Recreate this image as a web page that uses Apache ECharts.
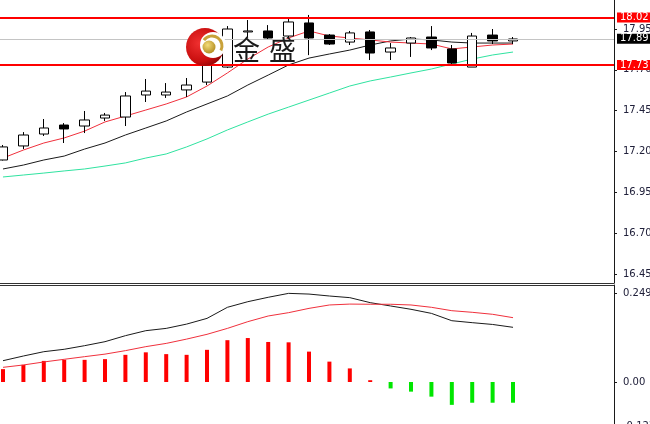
<!DOCTYPE html>
<html><head><meta charset="utf-8">
<script src="https://cdn.jsdelivr.net/npm/echarts@6/dist/echarts.min.js"></script>
<style>html,body{margin:0;padding:0;overflow:hidden;background:#fff}#c{width:650px;height:440px}</style>
</head><body><div id="c"></div>
<script>
// ---- data ----
const barIndex   = [0,1,2,3,4,5,6,7,8,9,10,11,12,13,14,15,16,17,18,19,20,21,22,23,24,25];
const candleOpen  = [17.148,17.234,17.307,17.362,17.356,17.405,17.411,17.546,17.546,17.577,17.625,17.717,17.932,17.938,17.907,17.987,17.913,17.870,17.932,17.809,17.864,17.901,17.828,17.717,17.913,17.877];
const candleClose = [17.228,17.301,17.344,17.338,17.393,17.423,17.540,17.570,17.564,17.607,17.730,17.950,17.938,17.895,17.993,17.895,17.858,17.926,17.803,17.834,17.895,17.834,17.742,17.907,17.877,17.889];
const candleLow   = [17.145,17.215,17.295,17.252,17.313,17.387,17.356,17.503,17.528,17.534,17.607,17.711,17.900,17.883,17.895,17.790,17.852,17.852,17.760,17.760,17.779,17.821,17.736,17.717,17.858,17.858];
const candleHigh  = [17.240,17.319,17.399,17.374,17.448,17.436,17.564,17.644,17.619,17.650,17.748,17.968,18.005,17.974,18.023,18.036,17.919,17.938,17.944,17.864,17.901,17.968,17.852,17.926,17.950,17.901];
const maRed   = [17.160,17.209,17.252,17.283,17.325,17.381,17.417,17.454,17.491,17.534,17.601,17.681,17.766,17.840,17.895,17.938,17.907,17.895,17.883,17.870,17.864,17.858,17.828,17.840,17.852,17.858];
const maBlack = [17.093,17.117,17.148,17.172,17.215,17.252,17.301,17.344,17.387,17.442,17.491,17.540,17.607,17.668,17.730,17.772,17.797,17.821,17.852,17.877,17.889,17.883,17.870,17.864,17.864,17.864];
const maGreen = [17.044,17.056,17.068,17.081,17.093,17.111,17.130,17.160,17.185,17.228,17.277,17.332,17.381,17.429,17.472,17.515,17.558,17.601,17.632,17.656,17.681,17.705,17.736,17.766,17.791,17.809];
const macdHist   = [0.036,0.048,0.059,0.062,0.062,0.064,0.076,0.083,0.078,0.076,0.090,0.117,0.123,0.112,0.111,0.085,0.057,0.038,0.005,-0.018,-0.027,-0.041,-0.064,-0.058,-0.058,-0.058];
const macdMain   = [0.0596,0.0727,0.0848,0.0915,0.1016,0.1128,0.1296,0.1436,0.150,0.162,0.178,0.209,0.2247,0.237,0.248,0.246,0.2406,0.236,0.222,0.2127,0.2034,0.192,0.1715,0.166,0.161,0.153];
const macdSignal = [0.041,0.0476,0.056,0.0635,0.0709,0.078,0.0877,0.0989,0.108,0.120,0.1334,0.150,0.1688,0.1847,0.194,0.206,0.2155,0.218,0.2175,0.2175,0.2155,0.209,0.1995,0.195,0.1894,0.180];
const priceTicks = [16.45,16.70,16.95,17.20,17.45,17.70,17.95];
const macdTicks  = [0.249,0,-0.123];
const levelHigh = 18.02;
const levelLow  = 17.73;
const lastPrice = 17.89;
const logoChars = ['金','盛'];

// ---- chart ----
const chart = echarts.init(document.getElementById('c'), null, {renderer:'canvas'});
const FONT = 'DejaVu Sans';
const candleData = barIndex.map((x,i)=>[x, candleOpen[i], candleClose[i], candleLow[i], candleHigh[i]]);
const pair = arr => barIndex.map((x,i)=>[x, arr[i]]);
const axisTxt = '#20203a';
const lvlLabel = (txt,bg) => ({show:true, position:'end', distance:3, formatter:txt, backgroundColor:bg, color:'#fff',
  fontSize:10, fontFamily:FONT, padding:[0,6,0,3], lineHeight:10});

const option = {
  animation:false,
  backgroundColor:'#ffffff',
  grid:[
    {left:0, top:0, width:614, height:283, containLabel:false, outerBoundsMode:'none'},
    {left:0, top:285, width:614, height:155, containLabel:false, outerBoundsMode:'none'}
  ],
  xAxis:[
    {gridIndex:0, type:'value', min:-0.147, max:29.95, position:'bottom',
     axisLine:{show:true, onZero:false, lineStyle:{color:'#333', width:1}}, axisTick:{show:false}, axisLabel:{show:false}, splitLine:{show:false}},
    {gridIndex:1, type:'value', min:-0.147, max:29.95, position:'top',
     axisLine:{show:true, onZero:false, lineStyle:{color:'#333', width:1}}, axisTick:{show:false}, axisLabel:{show:false}, splitLine:{show:false}}
  ],
  yAxis:[
    {gridIndex:0, type:'value', position:'right', min:16.3949, max:18.1276,
     axisLine:{show:true, onZero:false, lineStyle:{color:'#1a1a1a', width:1}},
     axisTick:{show:true, length:3, customValues:priceTicks, lineStyle:{color:'#1a1a1a'}},
     axisLabel:{show:true, customValues:priceTicks, formatter:v=>v.toFixed(2), color:axisTxt, fontSize:10, fontFamily:FONT, margin:9},
     splitLine:{show:false}},
    {gridIndex:1, type:'value', position:'right', min:-0.1623, max:0.2714,
     axisLine:{show:true, onZero:false, lineStyle:{color:'#1a1a1a', width:1}},
     axisTick:{show:true, length:3, customValues:macdTicks, lineStyle:{color:'#1a1a1a'}},
     axisLabel:{show:true, customValues:macdTicks, formatter:v=> v===0 ? '0.00' : v.toFixed(3), color:axisTxt, fontSize:10, fontFamily:FONT, margin:9},
     splitLine:{show:false}}
  ],
  series:[
    {type:'candlestick', xAxisIndex:0, yAxisIndex:0, data:candleData, barWidth:10, clip:false, z:3,
     itemStyle:{color:'#ffffff', color0:'#000000', borderColor:'#000000', borderColor0:'#000000', borderColorDoji:'#000000', borderWidth:1},
     markLine:{silent:true, animation:false, symbol:['none','none'], z:4,
       data:[
         {yAxis:lastPrice, lineStyle:{color:'#c4c4c4', width:1, type:'solid'}, label:lvlLabel(lastPrice.toFixed(2),'#000000')},
         {yAxis:levelHigh, lineStyle:{color:'#ff0000', width:2, type:'solid'}, label:lvlLabel(levelHigh.toFixed(2),'#ff0000')},
         {yAxis:levelLow, lineStyle:{color:'#ff0000', width:2, type:'solid'}, label:lvlLabel(levelLow.toFixed(2),'#ff0000')}
       ]}
    },
    {type:'line', xAxisIndex:0, yAxisIndex:0, data:pair(maGreen), showSymbol:false, symbol:'none', lineStyle:{color:'#2fe3a0', width:1}, z:2},
    {type:'line', xAxisIndex:0, yAxisIndex:0, data:pair(maBlack), showSymbol:false, symbol:'none', lineStyle:{color:'#1a1a1a', width:1}, z:2},
    {type:'line', xAxisIndex:0, yAxisIndex:0, data:pair(maRed), showSymbol:false, symbol:'none', lineStyle:{color:'#f0303c', width:1}, z:2},
    {type:'bar', xAxisIndex:1, yAxisIndex:1, data:pair(macdHist), barWidth:4,
     itemStyle:{color:p=> p.value[1] >= 0 ? '#ff0000' : '#00e600'}},
    {type:'line', xAxisIndex:1, yAxisIndex:1, data:pair(macdMain), showSymbol:false, symbol:'none', lineStyle:{color:'#1a1a1a', width:1}},
    {type:'line', xAxisIndex:1, yAxisIndex:1, data:pair(macdSignal), showSymbol:false, symbol:'none', lineStyle:{color:'#f0303c', width:1}}
  ],
  graphic:[
    {type:'circle', z:100, shape:{cx:205, cy:47, r:19},
     style:{fill:new echarts.graphic.RadialGradient(0.35,0.4,0.7,[{offset:0,color:'#f03030'},{offset:0.7,color:'#c80e0e'},{offset:1,color:'#8a0505'}])}},
    {type:'circle', z:101, shape:{cx:213, cy:45, r:13}, style:{fill:'#ffffff'}},
    {type:'arc', z:102, shape:{cx:212, cy:46, r:10, startAngle:-Math.PI*0.8, endAngle:Math.PI*0.15},
     style:{stroke:'#c9a23a', lineWidth:3, fill:null}},
    {type:'circle', z:103, shape:{cx:209, cy:47, r:6.5},
     style:{fill:new echarts.graphic.RadialGradient(0.4,0.35,0.7,[{offset:0,color:'#f4dc7a'},{offset:1,color:'#b08a1e'}])}},
    {type:'text', z:104, x:233, y:63, style:{text:logoChars[0], fontSize:27, fontFamily:'Noto Sans CJK SC', fill:'#1a1a1a', verticalAlign:'bottom'}},
    {type:'text', z:104, x:269, y:63, style:{text:logoChars[1], fontSize:27, fontFamily:'Noto Sans CJK SC', fill:'#1a1a1a', verticalAlign:'bottom'}}
  ]
};
chart.setOption(option);
</script>
</body></html>
